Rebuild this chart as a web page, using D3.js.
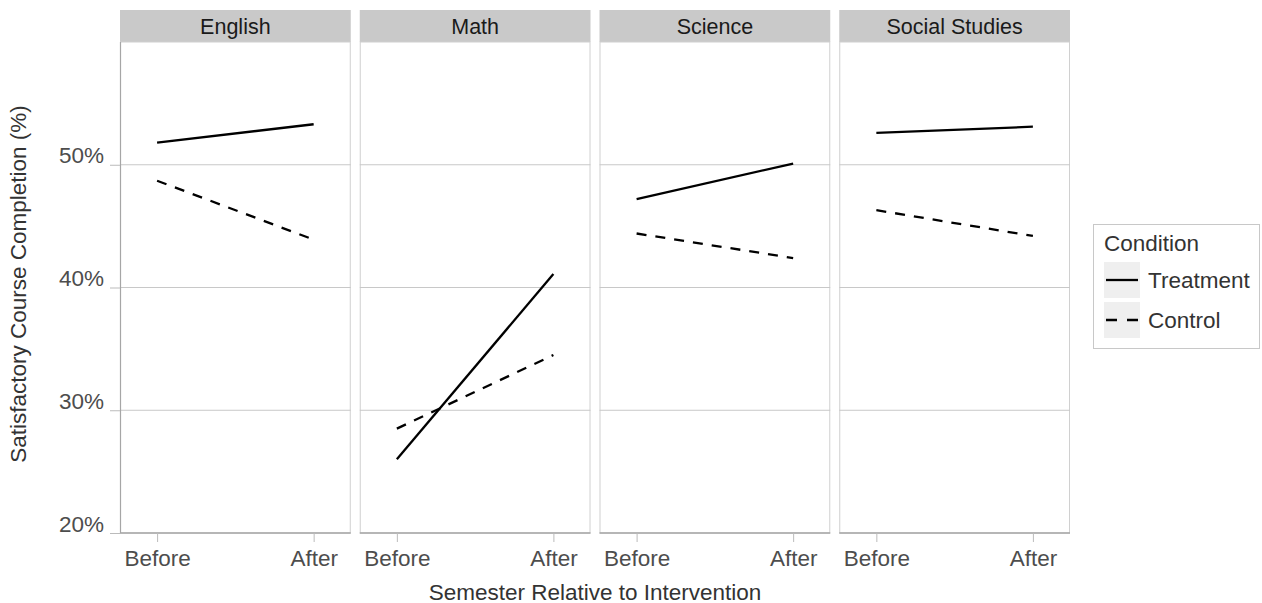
<!DOCTYPE html>
<html><head><meta charset="utf-8">
<script src="https://cdn.jsdelivr.net/npm/d3@7"></script>
<style>body{margin:0;background:#fff}svg{display:block;font-family:"Liberation Sans",Arial,sans-serif}</style>
</head><body><svg id="c" width="1262" height="603"></svg>
<script>
const subjects = ["English","Math","Science","Social Studies"];
const semesters = ["Before","After"];
const conditions = ["Treatment","Control"];
const treatmentValues = [[51.8,53.3],[26.0,41.1],[47.2,50.1],[52.6,53.1]];
const controlValues = [[48.7,43.9],[28.5,34.5],[44.4,42.4],[46.3,44.2]];
const yTicks = [20,30,40,50];
const yTickLabels = ["20%","30%","40%","50%"];

(function(){
const svg = d3.select("#c");
const pLeft = 120, pRight = 1070, pTop = 42, pBottom = 533, stripTop = 10, gap = 9;
const pw = (pRight-pLeft-3*gap)/4;
const FS = 22.5;
const y = d3.scaleLinear().domain([20,60]).range([pBottom, pTop]);
const dash = {Treatment:null, Control:"10,9"};
const series = {Treatment:treatmentValues, Control:controlValues};

subjects.forEach((s,i)=>{
  const x0 = pLeft + i*(pw+gap);
  const x = d3.scalePoint().domain(semesters).range([x0, x0+pw]).padding(0.237);
  const g = svg.append("g");
  g.append("rect").attr("x",x0).attr("y",stripTop).attr("width",pw).attr("height",pTop-stripTop).attr("fill","#c9c9c9");
  g.append("text").attr("x",x0+pw/2).attr("y",(stripTop+pTop)/2+7.5).attr("text-anchor","middle").attr("font-size",21.5).attr("fill","#1a1a1a").text(s);
  g.append("rect").attr("x",x0+0.5).attr("y",pTop).attr("width",pw-1).attr("height",pBottom-pTop).attr("fill","#fff").attr("stroke","#d0d0d0").attr("stroke-width",1);
  yTicks.forEach(t=>{
    if(t>20) g.append("line").attr("x1",x0).attr("x2",x0+pw).attr("y1",y(t)).attr("y2",y(t)).attr("stroke","#c8c8c8").attr("stroke-width",1);
  });
  g.append("line").attr("x1",x0).attr("x2",x0+pw).attr("y1",pBottom).attr("y2",pBottom).attr("stroke","#a6a6a6").attr("stroke-width",1.4);
  if(i===0){
    g.append("line").attr("x1",x0+0.5).attr("x2",x0+0.5).attr("y1",pTop).attr("y2",pBottom).attr("stroke","#a6a6a6").attr("stroke-width",1.2);
    const ax = d3.axisLeft(y).tickValues(yTicks).tickFormat((d,k)=>yTickLabels[k]).tickSize(10).tickPadding(6);
    const ag = svg.append("g").attr("transform",`translate(${x0},0)`).call(ax);
    ag.select(".domain").remove();
    ag.selectAll("line").attr("stroke","#bbbbbb");
    ag.selectAll("text").attr("font-size",FS).attr("fill","#4d4d4d").attr("font-family","Liberation Sans, Arial, sans-serif").attr("dy","-2px");
  }
  const xa = d3.axisBottom(x).tickSize(9).tickPadding(6);
  const xg = svg.append("g").attr("transform",`translate(0,${pBottom})`).call(xa);
  xg.select(".domain").remove();
  xg.selectAll("line").attr("stroke","#bbbbbb");
  xg.selectAll("text").attr("font-size",FS).attr("fill","#4d4d4d").attr("font-family","Liberation Sans, Arial, sans-serif").attr("y",33).attr("dy","0");
  conditions.forEach(c=>{
    const vals = series[c][i];
    g.append("path").datum(semesters.map((sem,k)=>[x(sem), y(vals[k])]))
      .attr("d", d3.line()).attr("fill","none").attr("stroke","#000").attr("stroke-width",2.3)
      .attr("stroke-dasharray", dash[c]);
  });
});

svg.append("text").attr("x",595).attr("y",600).attr("text-anchor","middle").attr("font-size",FS).attr("fill","#333").text("Semester Relative to Intervention");
svg.append("text").attr("transform","translate(26,284) rotate(-90)").attr("text-anchor","middle").attr("font-size",FS).attr("fill","#333").text("Satisfactory Course Completion (%)");

const lg = svg.append("g");
lg.append("rect").attr("x",1093.5).attr("y",224.5).attr("width",166).attr("height",124).attr("fill","#fff").attr("stroke","#c8c8c8");
lg.append("text").attr("x",1104).attr("y",251).attr("font-size",FS).attr("fill","#333").text("Condition");
conditions.forEach((c,k)=>{
  const ky = 262 + k*40;
  lg.append("rect").attr("x",1104).attr("y",ky).attr("width",36).attr("height",36).attr("fill","#efefef");
  lg.append("line").attr("x1",1106).attr("x2",1138).attr("y1",ky+18).attr("y2",ky+18).attr("stroke","#000").attr("stroke-width",2.3).attr("stroke-dasharray",c==="Control"?"11,10":null);
  lg.append("text").attr("x",1148).attr("y",ky+26).attr("font-size",FS).attr("fill","#333").text(c);
});
})();
</script></body></html>
